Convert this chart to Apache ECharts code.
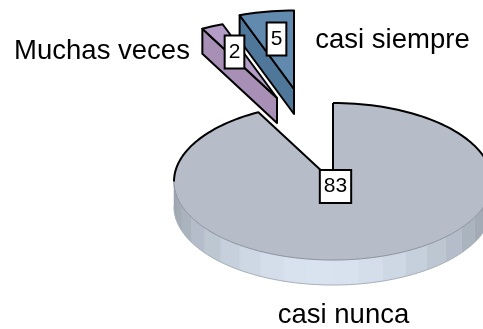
<!DOCTYPE html>
<html>
<head>
<meta charset="utf-8">
<script src="https://cdn.jsdelivr.net/npm/echarts@6/dist/echarts.min.js"></script>
<style>
  html, body { margin: 0; padding: 0; background: #fff; }
  #main { width: 483px; height: 329px; }
</style>
</head>
<body>
<div id="main"></div>
<script>
const categories = ['casi nunca', 'Muchas veces', 'casi siempre'];
const values = [83, 2, 5];

// drawing set up: pie ellipse and the pulled out slices
const RX = 159, RY = 78.5, DEPTH = 25;
const centers = [[333, 181.5], [277, 98], [294, 89]];
const topColors = ['#b6bdc9', '#b39dc6', '#6289ae'];
const sideColors = [null, '#a88fb6', '#4f7799'];
const labelPos = [[335.5, 186.5], [234.5, 52], [276.5, 39]];
const namePos = [[343.5, 315.5], [102, 51.5], [392.5, 40.5]];

const total = values.reduce((a, b) => a + b, 0);
const starts = [];
values.reduce((sum, v, i) => { starts[i] = sum; return sum + v; }, 0);

function pt(c, deg, dy) {
  const r = deg * Math.PI / 180;
  return [c[0] + RX * Math.sin(r), c[1] - RY * Math.cos(r) + (dy || 0)];
}

function arc(c, from, to, dy) {
  const pts = [];
  const n = Math.max(2, Math.ceil(Math.abs(to - from) / 2));
  for (let i = 0; i <= n; i++) pts.push(pt(c, from + (to - from) * i / n, dy));
  return pts;
}

function line(points, color, width) {
  return {
    type: 'polyline',
    shape: { points: points },
    style: { stroke: color, lineWidth: width, fill: null, lineJoin: 'round' }
  };
}

function poly(points, fill) {
  return { type: 'polygon', shape: { points: points }, style: { fill: fill, stroke: fill, lineWidth: 0.5 } };
}

function mix(a, b, t) {
  const ch = i => Math.round(a[i] + (b[i] - a[i]) * t);
  return 'rgb(' + ch(0) + ',' + ch(1) + ',' + ch(2) + ')';
}

// front wall of the big slice, in bands like the original
function frontWall(c) {
  const out = [];
  const step = 9;
  for (let d = 90; d < 270; d += step) {
    const t = Math.pow(Math.sin((d - 90) / 180 * Math.PI), 1.6);
    const col = mix([152, 161, 172], [217, 227, 239], t);
    out.push(poly(arc(c, d, d + step, 0).concat(arc(c, d + step, d, DEPTH)), col));
  }
  return out;
}

function renderSlice(params, api) {
  const i = api.value(1);
  const from = starts[i] / total * 360;
  const to = (starts[i] + api.value(0)) / total * 360;
  const c = centers[i];
  const kids = [];

  if (i === 0) {
    kids.push(...frontWall(c));
    kids.push(line(arc(c, 90, 270, DEPTH), '#a9b2bc', 1));
    kids.push(poly([c].concat(arc(c, from, to)), topColors[i]));
    kids.push(line(arc(c, 90, 270), '#8d959f', 1));
    kids.push(line(arc(c, from, 90), '#000', 2));
    kids.push(line(arc(c, 270, to).concat([c]), '#000', 2));
    kids.push(line([c, pt(c, from)], '#000', 2));
  } else {
    const wall = [pt(c, from), c, [c[0], c[1] + DEPTH], pt(c, from, DEPTH)];
    kids.push({
      type: 'polygon',
      shape: { points: wall },
      style: { fill: sideColors[i], stroke: '#000', lineWidth: 2, lineJoin: 'round' }
    });
    kids.push({
      type: 'polygon',
      shape: { points: [c].concat(arc(c, from, to)) },
      style: { fill: topColors[i], stroke: '#000', lineWidth: 2, lineJoin: 'round' }
    });
  }

  kids.push({
    type: 'text',
    z2: 10,
    style: {
      x: labelPos[i][0], y: labelPos[i][1],
      text: String(api.value(0)),
      align: 'center', verticalAlign: 'middle',
      font: '21px "Liberation Sans", Arial, sans-serif',
      fill: '#000',
      backgroundColor: '#fff', borderColor: '#000', borderWidth: 2,
      padding: i === 0 ? [5, 3, 5, 3] : [5, 3, 5, 3]
    }
  });
  kids.push({
    type: 'text',
    z2: 10,
    style: {
      x: namePos[i][0], y: namePos[i][1],
      text: categories[i],
      align: 'center', verticalAlign: 'middle',
      font: '27.5px "Liberation Sans", Arial, sans-serif',
      fill: '#000'
    }
  });
  return { type: 'group', children: kids };
}

const chart = echarts.init(document.getElementById('main'), null, { renderer: 'canvas' });
chart.setOption({
  animation: false,
  backgroundColor: '#fff',
  series: [{
    type: 'custom',
    coordinateSystem: 'none',
    silent: true,
    renderItem: renderSlice,
    data: values.map((v, i) => [v, i])
  }]
});
</script>
</body>
</html>
